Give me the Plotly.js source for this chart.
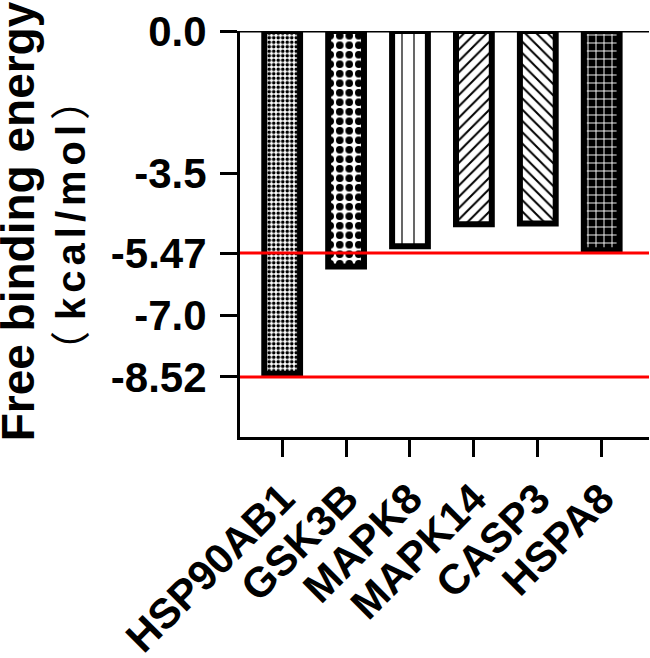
<!DOCTYPE html>
<html>
<head>
<meta charset="utf-8">
<script src="https://cdn.plot.ly/plotly-3.0.1.min.js"></script>
<style>
  body { margin: 0; background: #fff; }
  #plotArea { width: 650px; height: 658px; }
</style>
</head>
<body>
<div id="plotArea"></div>
<script>
// Genes and their free binding energies (kcal/mol)
var genes = ["HSP90AB1", "GSK3B", "MAPK8", "MAPK14", "CASP3", "HSPA8"];
var energies = [-8.45, -5.80, -5.30, -4.76, -4.74, -5.40];

// Reference lines
var thresholds = [-5.47, -8.52];

// Y axis ticks
var yTickVals = [0, -3.5, -5.47, -7.0, -8.52];
var yTickText = ["0.0", "-3.5", "-5.47", "-7.0", "-8.52"];

// Fill patterns, one per bar
var patternShapes = [".", ".", "|", "/", "\\", "+"];
var patternSizes = [4.5, 9.5, 12, 8, 8, 8];
var patternSolid = [0.5, 0.5, 0.1, 0.25, 0.25, 0.22];
var patternFg = ["black", "black", "black", "black", "black", "white"];
var patternBg = ["white", "white", "white", "white", "white", "black"];

var fam = "Liberation Sans, Arial, sans-serif";

var trace = {
  x: genes,
  y: energies,
  type: "bar",
  width: 0.56,
  marker: {
    color: "white",
    line: {color: "black", width: 6},
    pattern: {
      shape: patternShapes,
      size: patternSizes,
      solidity: patternSolid,
      fgcolor: patternFg,
      bgcolor: patternBg,
      fillmode: "replace"
    }
  },
  hoverinfo: "x+y"
};

var shapes = thresholds.map(function (t) {
  return {
    type: "line", xref: "paper", x0: 0, x1: 1, yref: "y", y0: t, y1: t,
    line: {color: "#ff0000", width: 3}, layer: "above"
  };
});
// line along zero at the top
shapes.push({
  type: "line", xref: "paper", x0: 0, x1: 1, yref: "y", y0: 0, y1: 0,
  line: {color: "black", width: 3}, layer: "above"
});

var tickFont = {family: fam, size: 42, color: "black", weight: "bold"};

var layout = {
  width: 650,
  height: 658,
  margin: {l: 240, r: 1, t: 31, b: 221},
  paper_bgcolor: "white",
  plot_bgcolor: "white",
  showlegend: false,
  font: {family: fam, color: "black"},
  xaxis: {
    type: "category",
    range: [-0.66, 5.74],
    showline: true, linewidth: 3, linecolor: "black",
    ticks: "outside", ticklen: 17, tickwidth: 3, tickcolor: "black",
    tickangle: -45,
    tickfont: tickFont,
    showgrid: false, zeroline: false
  },
  yaxis: {
    range: [-10, 0],
    tickvals: yTickVals,
    ticktext: yTickText,
    showline: true, linewidth: 3, linecolor: "black",
    ticks: "outside", ticklen: 17, tickwidth: 3, tickcolor: "black",
    ticklabelstandoff: 5,
    tickfont: tickFont,
    showgrid: false, zeroline: false
  },
  shapes: shapes,
  annotations: [
    {
      text: "Free binding energy",
      xref: "paper", yref: "paper",
      x: -0.544, y: 0.53,
      xanchor: "center", yanchor: "middle",
      textangle: -90, showarrow: false,
      font: {family: fam, size: 46, color: "black", weight: "bold"}
    },
    {
      text: "<span style='font-family:Noto Sans CJK SC;font-weight:normal'>（</span> " +
            "<span style='letter-spacing:5px'>kcal/mol</span>" +
            "<span style='font-family:Noto Sans CJK SC;font-weight:normal'>）</span>",
      xref: "paper", yref: "paper",
      x: -0.42, y: 0.52,
      xanchor: "center", yanchor: "middle",
      textangle: -90, showarrow: false,
      font: {family: fam, size: 40, color: "black", weight: "bold"}
    }
  ]
};

Plotly.newPlot("plotArea", [trace], layout, {displayModeBar: false, staticPlot: true});
</script>
</body>
</html>
